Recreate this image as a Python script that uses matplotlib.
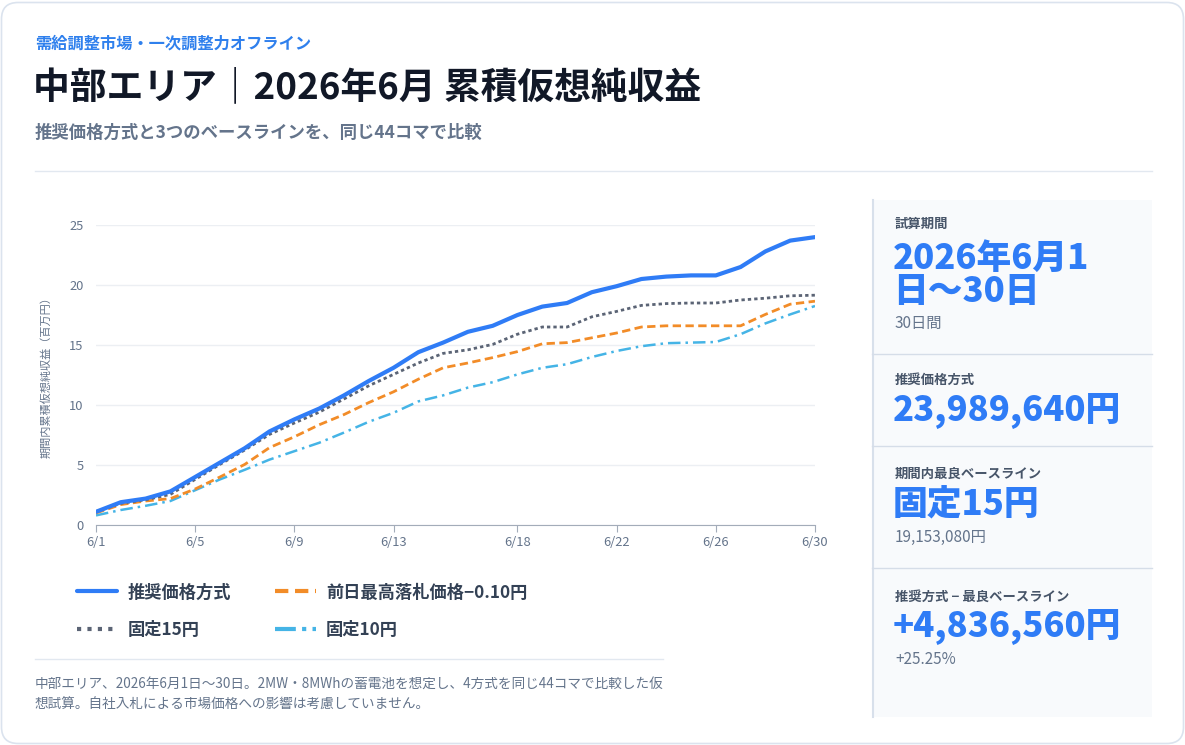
import numpy as np
import matplotlib
matplotlib.use('Agg')
import matplotlib.pyplot as plt
from matplotlib.patches import FancyBboxPatch, Rectangle
from matplotlib.lines import Line2D

plt.rcParams['font.family'] = ['Noto Sans CJK JP', 'DejaVu Sans']

# data (百万円, cumulative)
days = list(range(1, 31))
tick_days = [1, 5, 9, 13, 18, 22, 26, 30]
tick_labels = [f'6/{d}' for d in tick_days]

recommended = [1.1, 1.9, 2.2, 2.8, 4.0, 5.2, 6.4, 7.8, 8.8, 9.7,
               10.8, 12.0, 13.1, 14.4, 15.2, 16.1, 16.6, 17.5, 18.2, 18.5,
               19.4, 19.9, 20.5, 20.7, 20.8, 20.8, 21.5, 22.8, 23.7, 23.99]
prev_max_minus = [1.0, 1.7, 2.0, 2.2, 3.0, 4.0, 5.05, 6.45, 7.35, 8.35,
                  9.2, 10.2, 11.1, 12.15, 13.1, 13.5, 13.95, 14.45, 15.1, 15.2,
                  15.6, 16.0, 16.5, 16.6, 16.6, 16.6, 16.6, 17.55, 18.4, 18.65]
fixed15 = [1.1, 1.8, 2.1, 2.55, 3.8, 5.05, 6.25, 7.55, 8.5, 9.4,
           10.5, 11.6, 12.55, 13.5, 14.3, 14.6, 15.05, 15.9, 16.5, 16.5,
           17.35, 17.8, 18.3, 18.45, 18.5, 18.5, 18.75, 18.9, 19.1, 19.15]
fixed10 = [0.8, 1.25, 1.6, 2.0, 2.9, 3.8, 4.6, 5.45, 6.15, 6.85,
           7.7, 8.6, 9.35, 10.3, 10.8, 11.45, 11.9, 12.55, 13.1, 13.4,
           14.0, 14.5, 14.9, 15.15, 15.2, 15.25, 15.9, 16.8, 17.55, 18.25]

series_names = ['推奨価格方式', '前日最高落札価格−0.10円', '固定15円', '固定10円']

kpi_labels = ['試算期間', '推奨価格方式', '期間内最良ベースライン', '推奨方式 − 最良ベースライン']
kpi_values = ['2026年6月1\n日〜30日', '23,989,640円', '固定15円', '+4,836,560円']
kpi_subs = ['30日間', '', '19,153,080円', '+25.25%']

W, H = 1185, 745
fig = plt.figure(figsize=(W / 100, H / 100), dpi=100)
fig.patch.set_facecolor('white')


def fx(px):
    return px / W


def fy(py):
    return 1 - py / H


# card
card = FancyBboxPatch((fx(1.5), fy(743.5)), fx(1182), 741 / H,
                      boxstyle='round,pad=0,rounding_size=0.014',
                      transform=fig.transFigure, facecolor='white',
                      edgecolor='#dbe3ee', linewidth=1.2, mutation_aspect=W / H, zorder=-5)
fig.patches.append(card)

# header
fig.text(fx(35), fy(44), '需給調整市場・一次調整力オフライン', color='#2f80ed',
         fontsize=11.7, fontweight='bold', va='center', ha='left')
fig.text(fx(33), fy(88), '中部エリア｜2026年6月 累積仮想純収益', color='#111827',
         fontsize=26.5, fontweight='bold', va='center', ha='left')
fig.text(fx(35), fy(133), '推奨価格方式と3つのベースラインを、同じ44コマで比較', color='#64748b',
         fontsize=12.5, fontweight='bold', va='center', ha='left')
fig.add_artist(Line2D([fx(35), fx(1152)], [fy(171), fy(171)], color='#e2e8f0', lw=1))

# chart
ax = fig.add_axes([fx(96), fy(525), fx(815) - fx(96), (525 - 225) / H])
ax.patch.set_alpha(0)
ax.plot(days, fixed10, color='#45b4e6', lw=1.8, linestyle=(0, (5, 2, 1, 2)), label=series_names[3])
ax.plot(days, prev_max_minus, color='#f28c28', lw=2.0, linestyle=(0, (3, 1.6)), label=series_names[1])
ax.plot(days, fixed15, color='#5b6475', lw=2.0, linestyle=(0, (1.2, 1.1)), label=series_names[2])
ax.plot(days, recommended, color='#2f7cf6', lw=3.0, solid_capstyle='round', label=series_names[0])

ax.set_xlim(1, 30)
ax.set_ylim(0, 25)
ax.set_xticks(tick_days)
ax.set_xticklabels(tick_labels)
ax.set_yticks([0, 5, 10, 15, 20, 25])
ax.grid(axis='y', color='#eceff3', lw=1)
ax.set_axisbelow(True)
for s in ['top', 'right', 'left']:
    ax.spines[s].set_visible(False)
ax.spines['bottom'].set_color('#a3acb9')
ax.tick_params(axis='x', colors='#a3acb9', length=5, labelcolor='#64748b', labelsize=9.3, pad=3)
ax.tick_params(axis='y', length=0, labelcolor='#64748b', labelsize=9.3, pad=9)
ax.set_ylabel('期間内累積仮想純収益（百万円）', fontsize=8, color='#64748b')
ax.yaxis.set_label_coords(-0.062, 0.5)

# legend: row 1 = 推奨 / 前日, row 2 = 固定15 / 固定10 (column-major fill)
handles, labels = ax.get_legend_handles_labels()
order = [3, 2, 1, 0]
leg = ax.legend([handles[i] for i in order], [labels[i] for i in order],
                loc='upper left', bbox_to_anchor=(fx(61.5), fy(568)), bbox_transform=fig.transFigure,
                ncol=2, frameon=False, handlelength=2.35, handletextpad=0.6,
                columnspacing=2.55, labelspacing=1.15,
                prop={'size': 12.4, 'weight': 'bold'})
for t in leg.get_texts():
    t.set_color('#334155')
leg_styles = ['-', (0, (1, 1.5)), (0, (3.2, 1.6)), (0, (5, 1.5, 1, 1.5))]
for h, ls in zip(leg.get_lines(), leg_styles):
    h.set_linewidth(3.0)
    h.set_linestyle(ls)
    h.set_dash_capstyle('butt')

fig.add_artist(Line2D([fx(35), fx(663)], [fy(659), fy(659)], color='#e2e8f0', lw=1))
fig.text(fx(35), fy(684), '中部エリア、2026年6月1日〜30日。2MW・8MWhの蓄電池を想定し、4方式を同じ44コマで比較した仮',
         color='#64748b', fontsize=9.8, va='center', ha='left')
fig.text(fx(35), fy(705), '想試算。自社入札による市場価格への影響は考慮していません。',
         color='#64748b', fontsize=9.8, va='center', ha='left')

# KPI panel
fig.patches.append(Rectangle((fx(872), fy(717)), fx(1152) - fx(872), (717 - 200) / H,
                             transform=fig.transFigure, facecolor='#f8fafc', edgecolor='none',
                             zorder=-4))
fig.add_artist(Line2D([fx(872.5), fx(872.5)], [fy(200), fy(717)], color='#d8e0eb', lw=1.5))
for yy in [354, 446, 568]:
    fig.add_artist(Line2D([fx(872), fx(1152)], [fy(yy), fy(yy)], color='#d5dde8', lw=1))

label_y = [224, 380, 474, 597]
value_y = [275, 411, 505, 627]
sub_y = [323, None, 537, 659]
for i in range(4):
    fig.text(fx(895), fy(label_y[i]), kpi_labels[i], color='#475569', fontsize=9.6,
             fontweight='bold', va='center', ha='left')
    fig.text(fx(893), fy(value_y[i]), kpi_values[i], color='#2f7cf6', fontsize=25,
             fontweight='black', va='center', ha='left', linespacing=0.95)
    if sub_y[i] is not None:
        fig.text(fx(895), fy(sub_y[i]), kpi_subs[i], color='#64748b', fontsize=11,
                 va='center', ha='left')

fig.savefig('out.png', dpi=100, facecolor='white')
